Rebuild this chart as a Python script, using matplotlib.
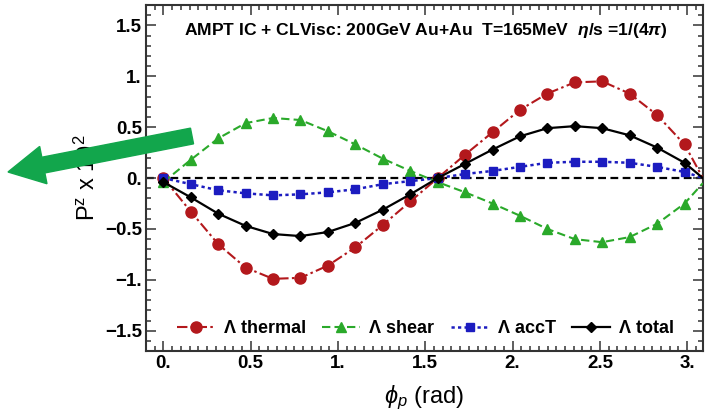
"""
Lambda polarization P^z vs azimuthal angle phi_p
AMPT IC + CLVisc, 200GeV Au+Au
"""

import matplotlib
matplotlib.use("Agg")
from matplotlib import pyplot as plt
from matplotlib.ticker import MultipleLocator, FuncFormatter
from matplotlib.patches import FancyArrow

plt.rcParams['font.family'] = ['Liberation Sans', 'DejaVu Sans']
plt.rcParams['mathtext.fontset'] = 'custom'
plt.rcParams['mathtext.rm'] = 'Liberation Sans'
plt.rcParams['mathtext.it'] = 'Liberation Sans:italic'
plt.rcParams['mathtext.bf'] = 'Liberation Sans:bold'
plt.rcParams['mathtext.bfit'] = 'Liberation Sans:bold:italic'

# phi_p grid (rad), last value is where the curves meet the right frame
phi = [0.0, 0.157, 0.314, 0.471, 0.628, 0.785, 0.942, 1.100, 1.257, 1.414,
       1.571, 1.728, 1.885, 2.042, 2.199, 2.356, 2.513, 2.670, 2.827, 2.985, 3.09]

thermal = [0.0, -0.33, -0.65, -0.88, -0.99, -0.98, -0.86, -0.68, -0.46, -0.23,
           0.0, 0.23, 0.45, 0.67, 0.83, 0.94, 0.95, 0.83, 0.62, 0.33, 0.0]
shear = [-0.04, 0.18, 0.39, 0.54, 0.59, 0.57, 0.46, 0.33, 0.19, 0.07,
         -0.04, -0.14, -0.25, -0.37, -0.50, -0.60, -0.63, -0.58, -0.45, -0.25, -0.05]
accT = [0.0, -0.06, -0.12, -0.15, -0.17, -0.16, -0.14, -0.11, -0.06, -0.03,
        0.0, 0.04, 0.07, 0.11, 0.15, 0.16, 0.16, 0.15, 0.11, 0.06, 0.0]
total = [-0.04, -0.19, -0.35, -0.47, -0.55, -0.57, -0.53, -0.44, -0.31, -0.16,
         0.0, 0.14, 0.28, 0.41, 0.49, 0.51, 0.49, 0.42, 0.30, 0.15, 0.0]

labels = ["Λ thermal", "Λ shear", "Λ accT", "Λ total"]


def tick_fmt(v, pos):
    if abs(v - round(v)) < 1e-9:
        s = f"{int(round(v))}."
    else:
        s = f"{abs(v):g}"
        if v < 0:
            s = "-" + s
    return s.replace("-", "\u2212")


def main():
    fig = plt.figure(figsize=(7.1, 4.17), dpi=100)
    ax = fig.add_axes([0.2056, 0.158, 0.7844, 0.830])

    ax.axhline(0, color='black', lw=1.6, ls=(0, (3.5, 2)), zorder=1)

    ax.plot(phi, thermal, color='#b3181c', lw=1.5, ls=(0, (5, 1.6, 1.2, 1.6)),
            marker='o', ms=8, markevery=slice(0, 20), label=labels[0], zorder=3)
    ax.plot(phi, shear, color='#2aa92a', lw=1.5, ls=(0, (4, 2)),
            marker='^', ms=7.5, markevery=slice(0, 20), label=labels[1], zorder=3)
    ax.plot(phi, accT, color='#1c1cc0', lw=1.8, ls=(0, (1.3, 1.3)),
            marker='s', ms=6, markevery=slice(0, 20), label=labels[2], zorder=3)
    ax.plot(phi, total, color='black', lw=1.6, ls='-',
            marker='D', ms=5.5, markevery=slice(0, 20), label=labels[3], zorder=4)

    ax.set_xlim(-0.1, 3.09)
    ax.set_ylim(-1.7, 1.7)

    ax.xaxis.set_major_locator(MultipleLocator(0.5))
    ax.xaxis.set_minor_locator(MultipleLocator(0.05))
    ax.yaxis.set_major_locator(MultipleLocator(0.5))
    ax.yaxis.set_minor_locator(MultipleLocator(0.1))
    ax.xaxis.set_major_formatter(FuncFormatter(tick_fmt))
    ax.yaxis.set_major_formatter(FuncFormatter(tick_fmt))

    ax.tick_params(which='both', direction='in', top=True, right=True,
                   color='#333333', width=1.1)
    ax.tick_params(which='major', length=7, labelsize=13.5, pad=3)
    ax.tick_params(which='minor', length=3.5)
    for lab in ax.get_xticklabels() + ax.get_yticklabels():
        lab.set_fontweight('bold')
    for sp in ax.spines.values():
        sp.set_color('#333333')
        sp.set_linewidth(1.5)

    ax.set_ylabel(r"P$^{\mathrm{z}}$ x 10$^{2}$", fontsize=17)
    ax.yaxis.set_label_coords(-0.083, 0.5)
    ax.set_xlabel(r"$\phi_p$ (rad)", fontsize=17)
    ax.xaxis.set_label_coords(0.5, -0.095)

    ax.text(0.502, 0.925,
            r"AMPT IC + CLVisc: 200GeV Au+Au  T=165MeV  $\mathbfit{\eta}$/s =1/(4$\mathbfit{\pi}$)",
            transform=ax.transAxes, ha='center', va='center',
            fontsize=12.6, fontweight='bold')

    ax.legend(loc='center', bbox_to_anchor=(0.502, 0.064), ncol=4, frameon=False,
              prop={'weight': 'bold', 'size': 13}, handlelength=2.1,
              handletextpad=0.5, columnspacing=0.9, borderpad=0)

    # green pointer arrow drawn over the left side
    arrow = FancyArrow(1.92, 2.81, -1.84, -0.36, width=0.16, head_width=0.38,
                       head_length=0.36, length_includes_head=True,
                       color='#12a64c', transform=fig.dpi_scale_trans, zorder=10)
    fig.add_artist(arrow)

    fig.savefig("out.png", dpi=100)


if __name__ == "__main__":
    main()
